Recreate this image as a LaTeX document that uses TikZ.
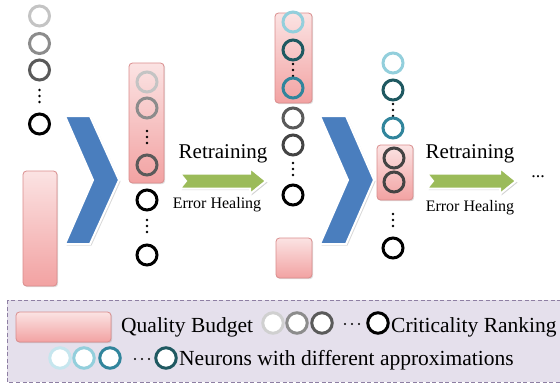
\documentclass[tikz,border=0pt]{standalone}
\usepackage{fontspec}
\setmainfont{Liberation Serif}
\usetikzlibrary{shadows}

\definecolor{pinktop}{HTML}{FBE3E3}
\definecolor{pinkbot}{HTML}{F2A2A2}
\definecolor{pinkedge}{HTML}{D98C8C}
\definecolor{chevblue}{HTML}{4A7EBE}
\definecolor{arrowgreen}{HTML}{9BBB59}
\definecolor{legendfill}{HTML}{E5E0EC}
\definecolor{legendedge}{HTML}{8E7FA3}
\definecolor{grayA}{HTML}{C4C4C4}
\definecolor{grayB}{HTML}{8C8C8C}
\definecolor{grayC}{HTML}{5A5A5A}
\definecolor{grayD}{HTML}{444444}
\definecolor{cyanA}{HTML}{C6E6EE}
\definecolor{cyanB}{HTML}{93CFDC}
\definecolor{tealC}{HTML}{31859C}
\definecolor{tealD}{HTML}{1F5961}

\tikzset{
  neuron/.style={circle, draw=#1, line width=3pt, minimum size=20pt, inner sep=0pt},
  keyneuron/.style={circle, draw=#1, fill=white, line width=3pt, minimum size=20.5pt, inner sep=0pt},
  budget/.style={rectangle, draw=pinkedge, line width=0.8pt, rounded corners=3.5pt,
    top color=pinktop, bottom color=pinkbot, inner sep=0pt,
    drop shadow={shadow xshift=1.2pt, shadow yshift=-1.2pt, opacity=0.25}},
  chevron/.style={fill=chevblue, draw=white, line width=2pt, line join=miter,
    drop shadow={shadow xshift=1.5pt, shadow yshift=-1.5pt, opacity=0.3}},
  healarrow/.style={fill=arrowgreen, draw=white, line width=2pt, line join=miter,
    drop shadow={shadow xshift=1.5pt, shadow yshift=-1.5pt, opacity=0.35}},
  bigtext/.style={font=\fontsize{21}{24}\selectfont, inner sep=0pt},
  smalltext/.style={font=\fontsize{16}{18}\selectfont, inner sep=0pt},
  keytext/.style={font=\fontsize{21.5}{24}\selectfont, inner sep=0pt, anchor=base west},
  vdots/.pic={\foreach \d in {-6,0,6} \fill (0,\d) circle (1.4pt);},
  hdots/.pic={\foreach \d in {-7,0,7} \fill (\d,0) circle (1.1pt);}
}

\begin{document}
\begin{tikzpicture}[x=1pt, y=-1pt]
\useasboundingbox (0,0) rectangle (560,389);

% ---- quality budget boxes (drawn first, neurons sit on top)
\node[budget, minimum width=34pt, minimum height=115pt] (qb1) at (40,228.5) {};
\node[budget, minimum width=35pt, minimum height=120pt] (qb2) at (146.5,123) {};
\node[budget, minimum width=37pt, minimum height=90pt]  (qb3) at (293.5,58) {};
\node[budget, minimum width=36pt, minimum height=40pt]  (qb4) at (294,258) {};
\node[budget, minimum width=36pt, minimum height=55pt]  (qb5) at (395,172.5) {};

% ---- column 1: criticality ranking
\node[neuron=grayA] (a1) at (39.5,16) {};
\node[neuron=grayB] (a2) at (39.5,43.5) {};
\node[neuron=grayC] (a3) at (39.5,70) {};
\pic at (39.5,96) {vdots};
\node[neuron=black] (a4) at (39.5,124) {};

% ---- first chevron
\path[chevron] (65,116) -- (90,116) -- (119,180) -- (90,244) -- (65,244) -- (93,180) -- cycle;

% ---- column 2
\node[neuron=grayA] (b1) at (147,82) {};
\node[neuron=grayB] (b2) at (147,108) {};
\pic at (147,137) {vdots};
\node[neuron=grayC] (b3) at (147,165) {};
\node[neuron=black] (b4) at (147,200) {};
\pic at (147,226) {vdots};
\node[neuron=black] (b5) at (147,255) {};

% ---- first retraining step
\path[healarrow] (180,173.5) -- (250,173.5) -- (250,168) -- (266,181) -- (250,194)
  -- (250,188.5) -- (180,188.5) -- (186,181) -- cycle;
\node[bigtext] (rt1) at (223,154) {Retraining};
\node[smalltext] (eh1) at (217,205) {Error Healing};

% ---- column 3
\node[neuron=cyanB] (c1) at (293,22) {};
\node[neuron=tealD] (c2) at (293,50) {};
\pic at (293,70) {vdots};
\node[neuron=tealC] (c3) at (293,88) {};
\node[neuron=grayC] (c4) at (293,118) {};
\node[neuron=grayD] (c5) at (293,145) {};
\pic at (293,169) {vdots};
\node[neuron=black] (c6) at (293,195) {};

% ---- second chevron
\path[chevron] (320,116) -- (346,116) -- (374,180) -- (346,244) -- (320,244) -- (348,180) -- cycle;

% ---- column 4
\node[neuron=cyanB] (d1) at (393,63) {};
\node[neuron=tealD] (d2) at (393,90) {};
\pic at (393,110) {vdots};
\node[neuron=tealC] (d3) at (393,128) {};
\node[neuron=grayD] (d4) at (394,158) {};
\node[neuron=grayD] (d5) at (394,182) {};
\pic at (393,220) {vdots};
\node[neuron=black] (d6) at (393,248) {};

% ---- second retraining step
\path[healarrow] (427,173.5) -- (500,173.5) -- (500,168) -- (516,181) -- (500,194)
  -- (500,188.5) -- (427,188.5) -- (433,181) -- cycle;
\node[bigtext] (rt2) at (470,154) {Retraining};
\node[smalltext] (eh2) at (470,208) {Error Healing};
\node[font=\fontsize{18}{20}\selectfont, inner sep=0pt] (more) at (538,177) {...};

% ---- legend
\draw[legendedge, dash pattern=on 4pt off 2.5pt, line width=0.8pt, fill=legendfill]
  (7,300) rectangle (566,382);
\node[budget, minimum width=95pt, minimum height=30pt] (kqb) at (63.5,327) {};
\node[keytext] (kqbt) at (121,332) {Quality Budget};
\node[keyneuron=grayA!80] (k1) at (273,323) {};
\node[keyneuron=grayB] (k2) at (297,323) {};
\node[keyneuron=grayC] (k3) at (322,323) {};
\pic at (352,324) {hdots};
\node[keyneuron=black] (k4) at (378,323) {};
\node[keytext] (kcrt) at (391,332) {Criticality Ranking};

\node[keyneuron=cyanA] (m1) at (60,358) {};
\node[keyneuron=cyanB] (m2) at (84,358) {};
\node[keyneuron=tealC] (m3) at (110,358) {};
\pic at (142,359) {hdots};
\node[keyneuron=tealD] (m4) at (166,358) {};
\node[keytext] (mtxt) at (179,365) {Neurons with different approximations};
\end{tikzpicture}
\end{document}
